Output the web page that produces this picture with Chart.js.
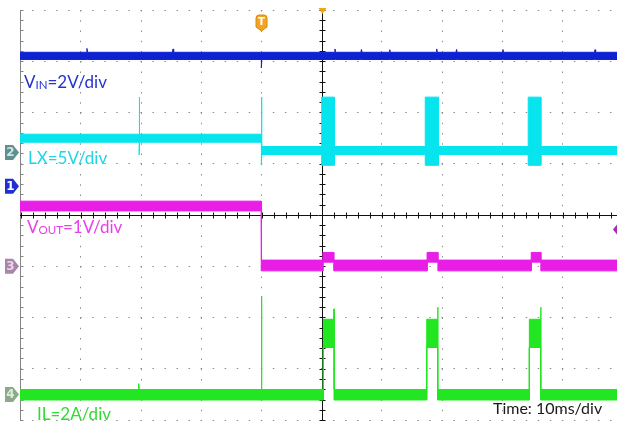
<!DOCTYPE html>
<html>
<head>
<meta charset="utf-8">
<title>Power-up waveforms</title>
<script src="https://cdn.jsdelivr.net/npm/chart.js@4.4.1/dist/chart.umd.min.js"></script>
<style>
  html, body { margin: 0; padding: 0; background: #ffffff; overflow: hidden; }
  #scope { display: block; }
</style>
</head>
<body>
<canvas id="scope" width="617" height="421"></canvas>
<script>
// Horizontal: 10 ms/div, time in ms from the screen centre
const timeDivisions = [-40, -30, -20, -10, 10, 20, 30, 40];
const timeMinorStep = 2;
// Vertical: 8 divisions, level in divisions from the centre line
const levelDivisions = [-4, -3, -2, -1, 1, 2, 3, 4];
const levelMinorStep = 0.2;

// CH1 VIN, 2 V/div, ground marker at +0.56 div
const vinVoltsPerDiv = 2;
const vinGroundDiv = 0.56;
const vinTime = [-50.5, -39.1, -39.0, -38.9, -24.8, -24.7, -24.6, -10.05, -10.0, -9.95,
                 2.1, 2.2, 2.3, 6.5, 6.6, 6.7, 11.2, 11.3, 11.4, 19.0, 19.1, 19.2,
                 22.3, 22.4, 22.5, 30.0, 30.1, 30.2, 45.3, 45.4, 45.5, 49.5];
const vinHigh = [5.23, 5.23, 5.38, 5.23, 5.23, 5.36, 5.23, 5.23, 5.23, 5.23,
                 5.23, 5.36, 5.23, 5.23, 5.34, 5.23, 5.23, 5.33, 5.23, 5.23, 5.36, 5.23,
                 5.23, 5.34, 5.23, 5.23, 5.34, 5.23, 5.23, 5.33, 5.23, 5.23];
const vinLow  = [4.95, 4.95, 4.95, 4.95, 4.95, 4.95, 4.95, 4.95, 4.62, 4.95,
                 4.95, 4.95, 4.95, 4.95, 4.95, 4.95, 4.95, 4.95, 4.95, 4.95, 4.95, 4.95,
                 4.95, 4.95, 4.95, 4.95, 4.95, 4.95, 4.95, 4.95, 4.95, 4.95];

// CH2 LX, 5 V/div, ground marker at +1.22 div
const lxVoltsPerDiv = 5;
const lxGroundDiv = 1.22;
const lxTime = [-50.5, -30.35, -30.3, -30.25, -10.05, -10.0, -9.95,
                0.0, 0.0, 2.1, 2.1, 17.2, 17.2, 19.4, 19.4, 34.3, 34.3, 36.4, 36.4, 49.5];
const lxHigh = [1.78, 1.78, 5.40, 1.78, 1.78, 5.40, 0.58,
                0.58, 5.40, 5.40, 0.58, 0.58, 5.40, 5.40, 0.58, 0.58, 5.40, 5.40, 0.58, 0.58];
const lxLow  = [1.00, 1.00, -0.26, 1.00, 1.00, -1.19, -0.20,
                -0.20, -1.25, -1.25, -0.20, -0.20, -1.25, -1.25, -0.20, -0.20, -1.25, -1.25, -0.20, -0.20];

// CH3 VOUT, 1 V/div, ground marker at -1.0 div
const voutVoltsPerDiv = 1;
const voutGroundDiv = -1.0;
const voutTime = [-50.5, -10.05, -10.0, 0.2, 0.2, 2.0, 2.0, 17.5, 17.5, 19.3, 19.3,
                  34.8, 34.8, 36.4, 36.4, 49.5];
const voutHigh = [1.27, 1.27, 0.12, 0.12, 0.27, 0.27, 0.12, 0.12, 0.27, 0.27, 0.12,
                  0.12, 0.27, 0.27, 0.12, 0.12];
const voutLow  = [1.08, 1.08, -0.09, -0.09, 0.08, 0.08, -0.09, -0.09, 0.08, 0.08, -0.09,
                  -0.09, 0.08, 0.08, -0.09, -0.09];

// CH4 IL, 2 A/div, ground marker at -3.5 div
const ilAmpsPerDiv = 2;
const ilGroundDiv = -3.5;
const ilTime = [-50.5, -30.5, -30.4, -30.3, -10.05, -10.0, -9.95,
                0.27, 0.27, 1.98, 2.04, 2.08,
                17.44, 17.44, 19.21, 19.27, 19.31,
                34.49, 34.49, 36.32, 36.38, 36.42, 49.5];
const ilHigh = [0.19, 0.19, 0.42, 0.19, 0.19, 3.83, 0.19,
                0.19, 2.93, 2.93, 3.34, 0.19,
                0.19, 2.93, 2.93, 3.40, 0.19,
                0.19, 2.93, 2.93, 3.40, 0.19, 0.19];
const ilLow  = [-0.22, -0.22, -0.22, -0.22, -0.22, -0.22, -0.22,
                -0.22, 1.83, 1.83, 1.83, -0.22,
                -0.22, 1.83, 1.83, 1.83, -0.22,
                -0.22, 1.83, 1.83, 1.83, -0.22, -0.22];

// Closed band: upper edge left to right, lower edge back again, in divisions
function envelope(time, high, low, perDiv, groundDiv) {
  const toDiv = v => groundDiv + v / perDiv;
  const upper = time.map((t, i) => ({ x: t, y: toDiv(high[i]) }));
  const lower = time.map((t, i) => ({ x: t, y: toDiv(low[i]) })).reverse();
  return upper.concat(lower);
}

function trace(label, points, color) {
  return {
    label, data: points,
    borderColor: color, backgroundColor: color,
    borderWidth: 1, pointRadius: 0, tension: 0, fill: 'shape'
  };
}

const COL_VIN = '#0f22d2', COL_LX = '#06e4ee', COL_VOUT = '#e81ee6', COL_IL = '#22e622';

// Centre cross, frame edge and minor tick marks
const graticule = {
  id: 'graticule',
  beforeDatasetsDraw(chart) {
    const { ctx, chartArea: a, scales: { x, y } } = chart;
    const cx = Math.round(x.getPixelForValue(0)) + 0.5;
    const cy = Math.round(y.getPixelForValue(0)) + 0.5;
    const lx = a.left + 0.5;
    ctx.save();
    ctx.lineWidth = 1;
    ctx.strokeStyle = '#858585';
    ctx.beginPath();
    ctx.moveTo(lx, a.top); ctx.lineTo(lx, a.bottom);
    for (let v = y.min; v <= y.max + 1e-6; v += levelMinorStep) {
      const py = Math.round(y.getPixelForValue(v)) + 0.5;
      ctx.moveTo(lx, py); ctx.lineTo(lx + 3, py);
    }
    ctx.stroke();
    ctx.strokeStyle = '#111111';
    ctx.beginPath();
    ctx.moveTo(cx, a.top + 3); ctx.lineTo(cx, a.bottom);
    ctx.moveTo(a.left, cy); ctx.lineTo(a.right, cy);
    for (let v = y.min; v <= y.max + 1e-6; v += levelMinorStep) {
      const py = Math.round(y.getPixelForValue(v)) + 0.5;
      ctx.moveTo(cx - 3, py); ctx.lineTo(cx + 3, py);
    }
    for (let t = -50; t <= x.max; t += timeMinorStep) {
      const px = Math.round(x.getPixelForValue(t)) + 0.5;
      ctx.moveTo(px, cy - 3); ctx.lineTo(px, cy + 3);
    }
    ctx.stroke();
    ctx.restore();
  }
};

function channelTag(ctx, yc, num, fill, ink) {
  ctx.beginPath();
  ctx.moveTo(5, yc - 7.5);
  ctx.lineTo(13, yc - 7.5);
  ctx.lineTo(19, yc);
  ctx.lineTo(13, yc + 7.5);
  ctx.lineTo(5, yc + 7.5);
  ctx.closePath();
  ctx.fillStyle = fill;
  ctx.fill();
  ctx.fillStyle = ink;
  ctx.font = 'bold 12px "DejaVu Sans"';
  ctx.textAlign = 'center';
  ctx.textBaseline = 'middle';
  ctx.fillText(num, 10.5, yc + 0.5);
}

function label(ctx, parts, x, baseline, color) {
  ctx.fillStyle = color;
  ctx.textAlign = 'left';
  ctx.textBaseline = 'alphabetic';
  let cx = x;
  for (const [text, size, dy] of parts) {
    ctx.font = size + 'px Lato';
    ctx.fillText(text, cx, baseline + dy);
    cx += ctx.measureText(text).width;
  }
}

const screenMarks = {
  id: 'screenMarks',
  afterDraw(chart) {
    const { ctx, chartArea: a, scales: { x, y } } = chart;
    ctx.save();
    // ground markers of the four channels
    channelTag(ctx, y.getPixelForValue(lxGroundDiv), '2', '#5f8f8f', '#cfe6e6');
    channelTag(ctx, y.getPixelForValue(vinGroundDiv), '1', '#1f2fd0', '#ffffff');
    channelTag(ctx, y.getPixelForValue(voutGroundDiv), '3', '#a986a9', '#ead8ea');
    channelTag(ctx, y.getPixelForValue(ilGroundDiv), '4', '#8aaa8a', '#dcecdc');

    // trigger point badge
    const tx = x.getPixelForValue(-10);
    ctx.beginPath();
    ctx.moveTo(tx - 5.5, 18);
    ctx.quadraticCurveTo(tx - 5.5, 15, tx - 2.5, 15);
    ctx.lineTo(tx + 2.5, 15);
    ctx.quadraticCurveTo(tx + 5.5, 15, tx + 5.5, 18);
    ctx.lineTo(tx + 5.5, 27);
    ctx.lineTo(tx, 31);
    ctx.lineTo(tx - 5.5, 27);
    ctx.closePath();
    ctx.fillStyle = '#f3a421';
    ctx.fill();
    ctx.strokeStyle = '#d88a12';
    ctx.lineWidth = 1;
    ctx.stroke();
    ctx.fillStyle = '#ffffff';
    ctx.font = 'bold 10px "DejaVu Sans"';
    ctx.textAlign = 'center';
    ctx.textBaseline = 'middle';
    ctx.fillText('T', tx, 22);

    // horizontal position pointer
    const cx = Math.round(x.getPixelForValue(0)) + 0.5;
    ctx.beginPath();
    ctx.moveTo(cx - 4, 8);
    ctx.lineTo(cx + 4, 8);
    ctx.lineTo(cx, 14);
    ctx.closePath();
    ctx.fillStyle = '#f5a21c';
    ctx.fill();

    // level marker on the right edge
    const my = 229.5;
    ctx.beginPath();
    ctx.moveTo(a.right - 4, my);
    ctx.lineTo(a.right, my - 5);
    ctx.lineTo(a.right + 4, my);
    ctx.lineTo(a.right, my + 5);
    ctx.closePath();
    ctx.fillStyle = '#a828b8';
    ctx.fill();

    // channel scale captions
    label(ctx, [['V', 17, 0], ['IN', 11.5, 1], ['=2V/div', 17, 0]], 24, 88, '#2434cf');
    label(ctx, [['LX=5V/div', 17, 0]], 28, 163.5, '#1fd6e6');
    label(ctx, [['V', 17, 0], ['OUT', 11.5, 1], ['=1V/div', 17, 0]], 27, 232.5, '#ea3ee8');
    label(ctx, [['IL=2A/div', 17, 0]], 37, 420, '#30dc30');
    label(ctx, [['Time: 10ms/div', 16, 0]], 493, 414, '#1a1a1a');
    ctx.restore();
  }
};

new Chart(document.getElementById('scope'), {
  type: 'line',
  data: {
    datasets: [
      trace('VIN', envelope(vinTime, vinHigh, vinLow, vinVoltsPerDiv, vinGroundDiv), COL_VIN),
      trace('LX', envelope(lxTime, lxHigh, lxLow, lxVoltsPerDiv, lxGroundDiv), COL_LX),
      trace('VOUT', envelope(voutTime, voutHigh, voutLow, voutVoltsPerDiv, voutGroundDiv), COL_VOUT),
      trace('IL', envelope(ilTime, ilHigh, ilLow, ilAmpsPerDiv, ilGroundDiv), COL_IL)
    ]
  },
  options: {
    responsive: false,
    animation: false,
    events: [],
    layout: { padding: { left: 20, top: 10, right: 0, bottom: 1 } },
    plugins: { legend: { display: false }, tooltip: { enabled: false } },
    scales: {
      x: {
        type: 'linear', min: -50.12, max: 49.05,
        afterBuildTicks: s => { s.ticks = timeDivisions.map(v => ({ value: v })); },
        afterFit: s => { s.height = 0; },
        ticks: { display: false },
        grid: { color: '#8e8e8e', lineWidth: 1, drawTicks: false },
        border: { display: false, dash: [1.5, 8.75] }
      },
      y: {
        type: 'linear', min: -4, max: 4,
        afterBuildTicks: s => { s.ticks = levelDivisions.map(v => ({ value: v })); },
        afterFit: s => { s.width = 0; },
        ticks: { display: false },
        grid: { color: '#8e8e8e', lineWidth: 1, drawTicks: false },
        border: { display: false, dash: [1.5, 10.54] }
      }
    }
  },
  plugins: [graticule, screenMarks]
});
</script>
</body>
</html>
